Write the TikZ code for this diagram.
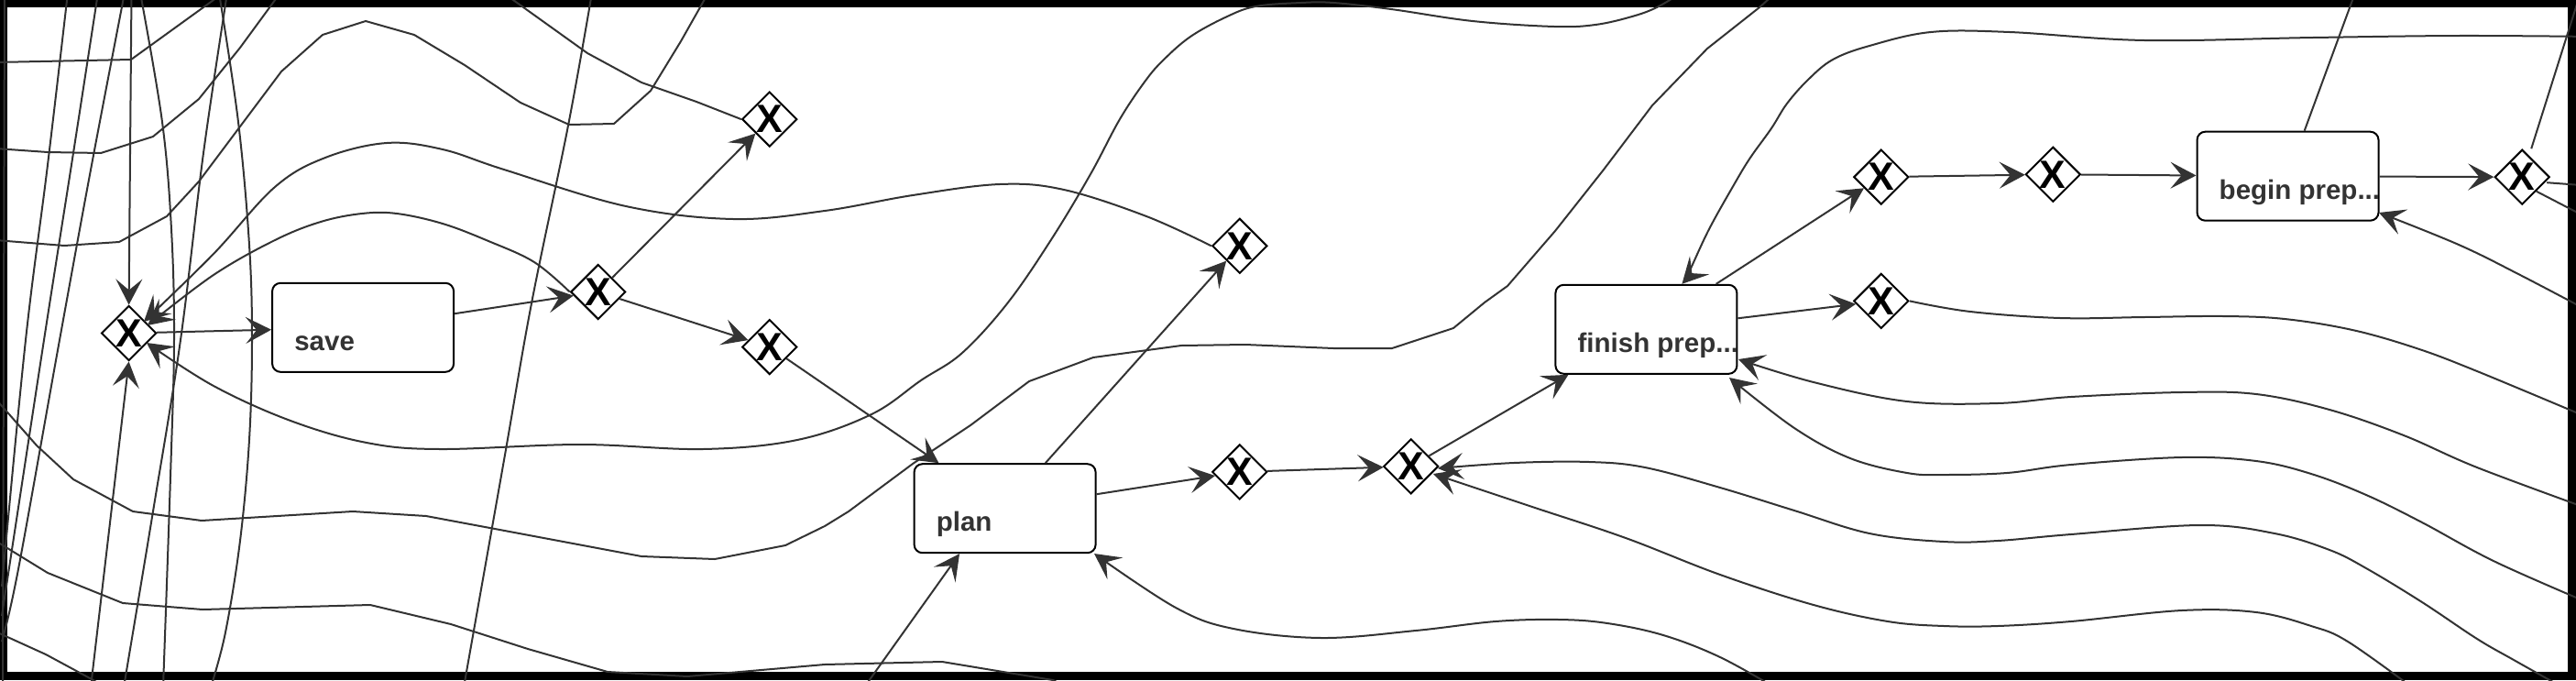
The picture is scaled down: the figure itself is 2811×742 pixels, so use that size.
\documentclass[tikz,border=0pt]{standalone}
\usepackage{fontspec}
\setmainfont{Liberation Sans}
\usetikzlibrary{shapes.geometric,arrows.meta}
\definecolor{ec}{HTML}{333333}
\definecolor{tc}{HTML}{333333}
\begin{document}
\begin{tikzpicture}[x=1pt,y=-1pt,
  gw/.style={diamond, aspect=1, draw=black, line width=2pt, fill=white, minimum width=60pt, minimum height=60pt, inner sep=0pt, font=\fontsize{43}{43}\selectfont\bfseries},
  task/.style={rectangle, rounded corners=9pt, draw=black, line width=2pt, fill=white, minimum width=198pt, minimum height=97pt, inner sep=0pt},
  tlabel/.style={anchor=base west, inner sep=0pt, text=tc, font=\fontsize{29.5}{35}\selectfont\bfseries},
  edge/.style={draw=ec, line width=2pt},
  arr/.style={edge, -{Stealth[length=28pt, width=29pt, inset=12pt]}},
  sm/.style={smooth, tension=0.6}
]
\useasboundingbox (0,0) rectangle (2811,742);
\clip (0,0) rectangle (2811,742);
\fill[black] (0,0) rectangle (2811,742);
\fill[white] (8.3,8.3) rectangle (2802,732.7);

% gateways
\node[gw] (D1) at (140.6,363.5) {\makebox[0pt]{X}};
\node[gw] (D2) at (652.7,318.5) {\makebox[0pt]{X}};
\node[gw] (D3) at (839.8,130.1) {\makebox[0pt]{X}};
\node[gw] (D4) at (839.8,378.6) {\makebox[0pt]{X}};
\node[gw] (D5) at (1352.8,268.3) {\makebox[0pt]{X}};
\node[gw] (D6) at (1352.8,514.9) {\makebox[0pt]{X}};
\node[gw] (D7) at (1539.7,508.8) {\makebox[0pt]{X}};
\node[gw] (D8) at (2052.8,193.1) {\makebox[0pt]{X}};
\node[gw] (D9) at (2240.3,190.3) {\makebox[0pt]{X}};
\node[gw] (D10) at (2752.2,193.2) {\makebox[0pt]{X}};
\node[gw] (D11) at (2052.8,328.4) {\makebox[0pt]{X}};

% tasks
\node[task] (save) at (396.1,357.3) {};
\node[task] (plan) at (1096.6,554.7) {};
\node[task] (finish) at (1796.4,359.3) {};
\node[task] (begin) at (2496.5,192.2) {};
\node[tlabel] (save-t) at ([xshift=25pt,yshift=-25pt]save.west) {save};
\node[tlabel] (plan-t) at ([xshift=25pt,yshift=-25pt]plan.west) {plan};
\node[tlabel] (finish-t) at ([xshift=25pt,yshift=-25pt]finish.west) {finish prep...};
\node[tlabel] (begin-t) at ([xshift=25pt,yshift=-25pt]begin.west) {begin prep...};

% tip coordinates
\coordinate (tQ1) at (157,351);
\coordinate (tQ2) at (161,355);
\coordinate (tS) at (160,374);
\coordinate (tFt) at ([xshift=39pt]finish.north);
\coordinate (tF1) at (1897,392);
\coordinate (tF2) at (1887,412);
\coordinate (tR1) at (1569,511);
\coordinate (tR2) at (1564,517);
\coordinate (tPc) at (1194,604);
\coordinate (tB) at (2596,232);
\coordinate (tPb) at ([xshift=-49.6pt]plan.south);

% straight connectors
\draw[arr] (D1) -- (save);
\draw[arr] (save) -- (D2);
\draw[arr] (D2) -- (D3);
\draw[arr] (D2) -- (D4);
\draw[arr] (D4) -- (plan);
\draw[arr] (plan) -- (D5);
\draw[arr] (plan) -- (D6);
\draw[arr] (D6) -- (D7);
\draw[arr] (D7) -- (finish);
\draw[arr] (finish) -- (D8);
\draw[arr] (finish) -- (D11);
\draw[arr] (D8) -- (D9);
\draw[arr] (D9) -- (begin);
\draw[arr] (begin) -- (D10);
\draw[arr] (143.5,-8) -- (D1.north);
\draw[arr] (99,750) -- (D1.south);
\draw[arr] (943,750) -- (tPb);

% curved connectors into nodes
\draw[arr] plot[sm] coordinates {(D5.west) (1251,236) (1161,207) (1091,201) (996,213) (900,230) (800,239) (683,225) (550,185) (483,163) (422,156) (355,172) (300,204) (233,277) (tQ1)};
\draw[arr] plot[sm] coordinates {(D2.west) (583,286) (533,263) (483,244) (433,233) (395,233) (350,242) (300,262) (233,300) (tQ2)};
\draw[arr] plot[sm] coordinates {(1835,-8) (1808,8) (1781,18) (1741,27) (1696,29) (1607,23) (1518,10) (1455,3) (1420,3) (1370,7) (1337,19) (1299,40) (1270,65) (1250,88) (1222,130) (1190,190) (1148,260) (1100,330) (1050,385) (1005,415) (951,452) (870,480) (767,490) (633,485) (480,490) (400,483) (317,459) (233,421) (tS)};
\draw[arr] plot[sm] coordinates {(2830,40) (2683,39) (2524,41) (2340,44) (2193,35) (2107,35) (2040,50) (2000,65) (1973,87) (1950,113) (1933,140) (1910,172) (1893,200) (1865,250) (1843,297) (tFt)};
\draw[arr] plot[sm] coordinates {(2830,557) (2703,510) (2623,475) (2542,447) (2462,430) (2381,428) (2260,433) (2180,440) (2081,438) (1979,417) (tF1)};
\draw[arr] plot[sm] coordinates {(2830,660) (2723,613) (2643,570) (2582,540) (2522,517) (2462,503) (2381,499) (2260,507) (2190,516) (2121,518) (2081,516) (2019,500) (1958,467) (tF2)};
\draw[arr] plot[sm] coordinates {(2800,752) (2743,720) (2703,697) (2643,657) (2582,620) (2542,600) (2482,582) (2401,573) (2260,583) (2180,590) (2121,591) (2040,582) (1958,557) (1877,532) (1795,510) (1734,504) (1652,505) (tR1)};
\draw[arr] plot[sm] coordinates {(2635,752) (2562,700) (2522,683) (2462,668) (2381,666) (2260,678) (2180,683) (2121,683) (2060,678) (1979,660) (1877,627) (1774,587) (1672,553) (tR2)};
\draw[arr] plot[sm] coordinates {(1940,752) (1877,717) (1815,693) (1754,680) (1701,676) (1632,678) (1545,688) (1442,696) (1346,686) (1283,663) (tPc)};
\draw[arr] plot[sm] coordinates {(2830,342) (2750,300) (2683,267) (tB)};

% outgoing lines leaving the picture
\draw[edge] (D3.west) -- (760,111) -- (700,90) -- (641,58) -- (560,0) -- (549,-8);
\draw[edge] (begin) -- (2570,-8);
\draw[edge] ([xshift=10pt]D10.north) -- (2815,-5);
\draw[edge] ([xshift=-4pt,yshift=-6pt]D10.east) -- (2830,203);
\draw[edge] (D10.south east) -- (2830,241);
\draw[edge] plot[sm] coordinates {(D11.east) (2150,340) (2248,347) (2340,346) (2426,345) (2493,348) (2567,360) (2637,380) (2703,405) (2830,458)};

% lines crossing the left part
\draw[edge] (5,-8) -- (3,750);
\draw[edge] plot[sm] coordinates {(74,-8) (52,180) (28,371) (2,640)};
\draw[edge] plot[sm] coordinates {(107,-8) (80,167) (48,371) (2,672)};
\draw[edge] plot[sm] coordinates {(136,-8) (100,180) (65,371) (20,621) (2,700)};
\draw[edge] plot[sm] coordinates {(153,-8) (177,133) (187,250) (190,371) (186,520) (178,750)};
\draw[edge] plot[sm] coordinates {(239,-8) (260,133) (272,267) (275,371) (272,480) (262,590) (246,690) (230,750)};
\draw[edge] plot[sm] coordinates {(248,-8) (222,167) (197,371) (167,558) (135,750)};
\draw[edge] plot[sm] coordinates {(646,-8) (620,137) (580,331) (550,502) (506,750)};

% polylines
\draw[edge] (-5,68) -- (143,65) -- (233,0) -- (245,-9);
\draw[edge] (-5,162) -- (52,166) -- (110,167) -- (167,149) -- (217,108) -- (262,52) -- (306,-8);
\draw[edge] (-5,262) -- (70,268) -- (130,264) -- (182,236) -- (217,198) -- (307,78) -- (352,38) -- (399,23) -- (452,38) -- (507,71) -- (568,112) -- (621,136) -- (670,135) -- (710,99) -- (743,45) -- (773,-8);
\draw[edge] (-5,435) -- (40,486) -- (80,523) -- (145,558) -- (220,568) -- (385,558) -- (465,563) -- (540,577) -- (700,607) -- (780,610) -- (857,595) -- (900,574) -- (926,558) -- (996,506) -- (1059,464) -- (1123,416) -- (1193,390) -- (1289,377) -- (1359,376) -- (1455,380) -- (1519,380) -- (1586,358) -- (1620,330) -- (1645,312) -- (1697,252) -- (1750,185) -- (1803,115) -- (1863,53) -- (1920,8) -- (1940,-10);
\draw[edge] (-5,590) -- (52,625) -- (134,658) -- (221,665) -- (404,660) -- (492,681) -- (576,708) -- (663,733) -- (750,738) -- (900,725) -- (1028,722) -- (1149,742) -- (1170,752);
\draw[edge] (-5,689) -- (50,714) -- (100,741) -- (115,750);
\end{tikzpicture}
\end{document}
